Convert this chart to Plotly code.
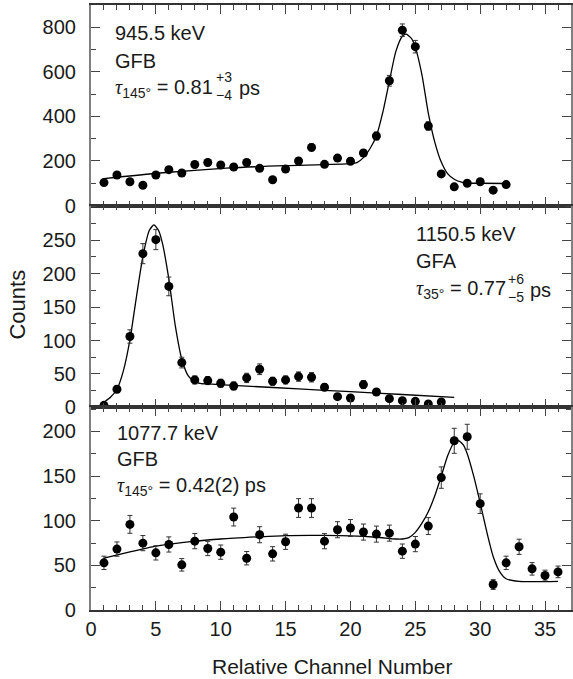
import plotly.graph_objects as go
from plotly.subplots import make_subplots

# ---------------- data ----------------
# Panel 1: 945.5 keV, GFB
ch_top = list(range(1, 33))
cnt_top = [103, 137, 107, 91, 137, 161, 146, 184, 193, 182, 173, 193, 167, 116, 164, 200,
           261, 185, 213, 199, 236, 312, 560, 787, 713, 357, 142, 84, 100, 107, 69, 94]
err_top = [10, 12, 10, 10, 12, 13, 12, 14, 14, 14, 13, 14, 13, 11, 13, 14,
           16, 14, 15, 14, 15, 18, 24, 28, 28, 19, 12, 9, 10, 10, 8, 10]
fit_top_x = [1, 5.3, 10.7, 15, 20, 20.5, 21, 21.5, 22, 22.5, 23, 23.5, 24, 24.3, 24.7, 25,
             25.5, 26, 26.5, 27, 27.5, 28, 28.5, 29, 30, 32]
fit_top_y = [121, 146, 169, 179, 188, 193, 215, 255, 312, 420, 558, 692, 760, 769, 750, 710,
             590, 415, 285, 195, 142, 118, 106, 101, 100, 99]
yticks_top = [0, 200, 400, 600, 800]

# Panel 2: 1150.5 keV, GFA
ch_mid = list(range(1, 28))
cnt_mid = [3, 27, 106, 230, 251, 181, 67, 41, 40, 36, 32, 44, 57, 39, 41, 46, 45, 30,
           16, 14, 34, 23, 13, 10, 9, 5, 8]
err_mid = [2, 5, 10, 15, 15, 14, 8, 6, 6, 6, 6, 7, 8, 6, 6, 7, 7, 5, 4, 4, 6, 5, 4, 3, 3, 2, 3]
fit_mid_x = [1.1, 1.5, 2, 2.5, 3, 3.5, 4, 4.5, 4.85, 5.2, 5.5, 6, 6.5, 7, 7.5, 8, 8.5, 9,
             12, 16, 20, 24, 28]
fit_mid_y = [9, 15, 27, 55, 101, 165, 226, 265, 273, 265, 246, 192, 122, 72, 47, 38, 35.5, 35,
             31.8, 27.6, 23.4, 19.2, 15]
yticks_mid = [0, 50, 100, 150, 200, 250]

# Panel 3: 1077.7 keV, GFB
ch_bot = list(range(1, 37))
cnt_bot = [52.8, 68.2, 95.9, 74.9, 64.0, 73.4, 50.6, 77.1, 68.9, 64.8, 104.1, 58.0, 84.3, 62.9,
           76.4, 114.2, 114.2, 77.1, 89.9, 91.8, 87.3, 85.0, 86.1, 65.9, 73.8, 94.0, 148.3,
           189.5, 194.0, 119.1, 28.5, 52.8, 70.8, 46.1, 38.6, 42.7]
err_bot = [7.5, 8, 10, 8.5, 8, 8.5, 7, 8.5, 8, 8, 10, 7.5, 9, 8, 8.5, 10.5, 10.5, 8.5, 9, 9.5,
           9, 9, 9, 8, 8.5, 9.5, 12, 14, 14, 11, 5.5, 7.5, 8.5, 7, 6, 6.5]
fit_bot_x = [1, 3, 5, 7, 10, 13, 15, 18, 20, 22, 23.5, 24, 24.5, 25, 25.5, 26, 26.5, 27, 27.5,
             28, 28.3, 28.7, 29, 29.5, 30, 30.5, 31, 31.5, 32, 33, 36]
fit_bot_y = [58, 65, 71.5, 75.5, 79.5, 82, 83.3, 83.5, 83, 81.5, 79.5, 79.5, 81, 87, 97, 110,
             128, 150, 173, 188, 190, 185, 175, 150, 120, 88, 60, 43, 35, 32, 32]
yticks_bot = [0, 50, 100, 150, 200]

x_ticks = [0, 5, 10, 15, 20, 25, 30, 35]

# ---------------- figure ----------------
FONT = "Liberation Sans, Arial, sans-serif"
TXT = "#1a1a1a"

fig = make_subplots(rows=3, cols=1, shared_xaxes=True, vertical_spacing=0)

panels = [
    (1, ch_top, cnt_top, err_top, fit_top_x, fit_top_y),
    (2, ch_mid, cnt_mid, err_mid, fit_mid_x, fit_mid_y),
    (3, ch_bot, cnt_bot, err_bot, fit_bot_x, fit_bot_y),
]
for row, cx, cy, ce, fx, fy in panels:
    fig.add_trace(go.Scatter(x=fx, y=fy, mode="lines", line=dict(color="black", width=1.3,
                                                                  shape="spline", smoothing=0.6),
                             showlegend=False, hoverinfo="skip"), row=row, col=1)
    fig.add_trace(go.Scatter(x=cx, y=cy, mode="markers",
                             marker=dict(color="black", size=9),
                             error_y=dict(type="data", array=ce, color="#333333",
                                          thickness=1, width=2.5),
                             showlegend=False), row=row, col=1)

domains = {1: [0.6685, 1.0], 2: [0.335, 0.6685], 3: [0.0, 0.335]}
yranges = {1: [0, 900], 2: [0, 302], 3: [0, 227]}
ytickvals = {1: yticks_top, 2: yticks_mid, 3: yticks_bot}
yminor = {1: 100, 2: 25, 3: 25}

for row in (1, 2, 3):
    fig.update_xaxes(row=row, col=1, range=[0, 37], tickmode="array", tickvals=x_ticks,
                     ticks="inside", ticklen=9, tickwidth=1, tickcolor="#444444",
                     minor=dict(dtick=1, tick0=0, ticks="inside", ticklen=5,
                                tickcolor="#444444", tickwidth=1),
                     showline=True, linecolor="#333333", linewidth=1.5, mirror="allticks",
                     showgrid=False, zeroline=False,
                     showticklabels=(row == 3),
                     tickfont=dict(family=FONT, size=20, color=TXT))
    fig.update_yaxes(row=row, col=1, range=yranges[row], domain=domains[row],
                     tickmode="array", tickvals=ytickvals[row],
                     ticks="inside", ticklen=9, tickwidth=1, tickcolor="#444444",
                     minor=dict(dtick=yminor[row], tick0=0, ticks="inside", ticklen=5,
                                tickcolor="#444444", tickwidth=1),
                     showline=True, linecolor="#808080", linewidth=2.2, mirror="allticks",
                     showgrid=False, zeroline=False, ticklabelstandoff=9,
                     tickfont=dict(family=FONT, size=20, color=TXT))

ann = []


def txt(x, y, t, xr, yr, size=20, **kw):
    ann.append(dict(x=x, y=y, xref=xr, yref=yr, text=t, showarrow=False,
                    xanchor="left", yanchor="middle", borderpad=0,
                    font=dict(family=FONT, size=size, color=TXT), **kw))


TAU = '<span style="font-family:Liberation Serif, serif"><i>τ</i></span>'
# top panel
txt(1.8, 773, "945.5 keV", "x", "y")
txt(1.8, 649, "GFB", "x", "y")
txt(1.8, 527, TAU + "<sub>145°</sub> = 0.81", "x", "y")
txt(9.55, 536, "+3<br>−4", "x", "y", 14, align="left")
txt(11.3, 527, "ps", "x", "y")
# middle panel
txt(25.0, 260, "1150.5 keV", "x2", "y2")
txt(25.0, 219, "GFA", "x2", "y2")
txt(25.0, 176, TAU + "<sub>35°</sub> = 0.77", "x2", "y2")
txt(32.05, 179, "+6<br>−5", "x2", "y2", 14, align="left")
txt(33.75, 176, "ps", "x2", "y2")
# bottom panel
txt(1.9, 198.5, "1077.7 keV", "x3", "y3")
txt(1.9, 169, "GFB", "x3", "y3")
txt(1.9, 138, TAU + "<sub>145°</sub> = 0.42(2) ps", "x3", "y3")

# axis titles
ann.append(dict(x=-0.154, y=0.505, xref="paper", yref="paper", text="Counts",
                textangle=-90, showarrow=False, xanchor="center", yanchor="middle",
                font=dict(family=FONT, size=22, color=TXT)))
ann.append(dict(x=0.503, y=-0.094, xref="paper", yref="paper", text="Relative Channel Number",
                showarrow=False, xanchor="center", yanchor="middle",
                font=dict(family=FONT, size=21, color=TXT)))

fig.update_layout(width=573, height=679, margin=dict(l=91, r=0, t=5, b=69),
                  paper_bgcolor="white", plot_bgcolor="white",
                  annotations=ann, font=dict(family=FONT, color=TXT))

fig.write_html("out.html")
